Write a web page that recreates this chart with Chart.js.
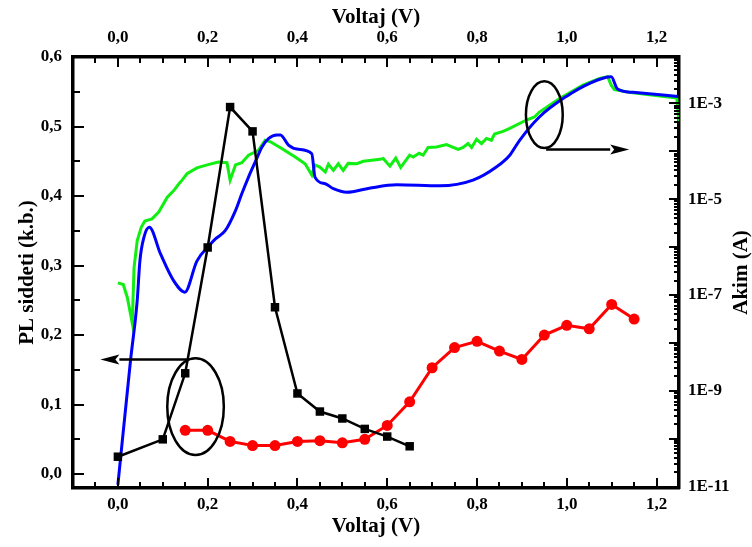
<!DOCTYPE html>
<html>
<head>
<meta charset="utf-8">
<script src="https://cdn.jsdelivr.net/npm/chart.js@4.4.1/dist/chart.umd.min.js"></script>
<style>
  body { margin: 0; background: #fff; }
  #wrap { width: 752px; height: 547px; }
</style>
</head>
<body>
<div id="wrap"><canvas id="chart" width="752" height="547"></canvas></div>
<script>
// ===== DONNEES =====
const voltTicks = [0, 0.2, 0.4, 0.6, 0.8, 1.0, 1.2]
const plTicks = [0, 0.1, 0.2, 0.3, 0.4, 0.5, 0.6]
const currentTicks = [1e-11, 1e-9, 1e-7, 1e-5, 1e-3]

// PL siddeti - siyah kareler
const plBlackV = [0, 0.1, 0.15, 0.2, 0.25, 0.3, 0.35, 0.4, 0.45, 0.5, 0.55, 0.6, 0.65]
const plBlack = [0.025, 0.050, 0.145, 0.326, 0.528, 0.493, 0.240, 0.116, 0.090, 0.080, 0.065, 0.054, 0.040]

// PL siddeti - kirmizi daireler
const plRedV = [0.15, 0.2, 0.25, 0.3, 0.35, 0.4, 0.45, 0.5, 0.55, 0.6, 0.65, 0.7, 0.75, 0.8, 0.85, 0.9, 0.95, 1.0, 1.05, 1.1, 1.15]
const plRed = [0.063, 0.063, 0.047, 0.041, 0.041, 0.047, 0.048, 0.045, 0.050, 0.070, 0.104, 0.153, 0.182, 0.191, 0.177, 0.165, 0.200, 0.214, 0.209, 0.244, 0.223]

// Akim - mavi egri
const blueV = [0, 0.028, 0.043, 0.049, 0.058, 0.070, 0.095, 0.124, 0.149, 0.176, 0.206, 0.218, 0.239, 0.262, 0.276, 0.291, 0.306, 0.321, 0.336, 0.354, 0.362, 0.380, 0.402, 0.432, 0.439, 0.462, 0.48, 0.51, 0.56, 0.621, 0.717, 0.791, 0.843, 0.873, 0.895, 0.939, 0.999, 1.05, 1.099, 1.113, 1.147, 1.248]
const blueI = [1.1e-11, 4.2e-9, 7.6e-8, 5.1e-7, 1.6e-6, 2.6e-6, 7.2e-7, 2.0e-7, 1.15e-7, 5.1e-7, 1.15e-6, 1.5e-6, 2.2e-6, 5.8e-6, 1.3e-5, 2.9e-5, 6.0e-5, 1.23e-4, 1.86e-4, 2.2e-4, 2.2e-4, 1.35e-4, 1.1e-4, 8.9e-5, 2.9e-5, 2.1e-5, 1.66e-5, 1.4e-5, 1.7e-5, 2.0e-5, 1.9e-5, 2.5e-5, 4.7e-5, 8.3e-5, 1.7e-4, 5.2e-4, 1.4e-3, 2.6e-3, 3.6e-3, 2.0e-3, 1.7e-3, 1.4e-3]

// Akim - yesil egri
const greenV = [0, 0.012, 0.021, 0.032, 0.036, 0.043, 0.052, 0.060, 0.076, 0.091, 0.110, 0.124, 0.136, 0.143, 0.154, 0.176, 0.199, 0.224, 0.243, 0.250, 0.262, 0.276, 0.291, 0.313, 0.328, 0.339, 0.365, 0.395, 0.417, 0.432, 0.439, 0.450, 0.462, 0.469, 0.480, 0.491, 0.502, 0.513, 0.532, 0.547, 0.584, 0.591, 0.606, 0.619, 0.630, 0.650, 0.658, 0.671, 0.680, 0.691, 0.710, 0.732, 0.758, 0.769, 0.780, 0.788, 0.799, 0.810, 0.821, 0.832, 0.839, 0.858, 0.873, 0.910, 0.928, 0.939, 0.984, 1.036, 1.073, 1.091, 1.099, 1.106, 1.147, 1.245, 1.25]
const greenI = [1.8e-7, 1.66e-7, 8.9e-8, 2.6e-8, 3.7e-7, 1.35e-6, 2.6e-6, 3.5e-6, 3.9e-6, 5.4e-6, 1.1e-5, 1.5e-5, 2.1e-5, 2.5e-5, 3.4e-5, 4.5e-5, 5.2e-5, 6.0e-5, 5.8e-5, 2.5e-5, 5.2e-5, 5.8e-5, 8.3e-5, 1.05e-4, 1.7e-4, 1.6e-4, 1.15e-4, 7.6e-5, 5.5e-5, 3.2e-5, 5.2e-5, 4.7e-5, 3.7e-5, 5.4e-5, 4.0e-5, 5.5e-5, 4.0e-5, 5.6e-5, 5.5e-5, 6.2e-5, 6.8e-5, 7.1e-5, 4.9e-5, 7.2e-5, 4.6e-5, 8.3e-5, 7.6e-5, 9.1e-5, 8.3e-5, 1.2e-4, 1.23e-4, 1.38e-4, 1.1e-4, 1.2e-4, 1.45e-4, 1.2e-4, 1.78e-4, 1.45e-4, 1.86e-4, 1.7e-4, 2.3e-4, 2.6e-4, 3.0e-4, 4.5e-4, 5.2e-4, 6.6e-4, 1.26e-3, 2.4e-3, 3.3e-3, 3.6e-3, 2.4e-3, 1.95e-3, 1.66e-3, 1.29e-3, 4.2e-4]

// ===== ISARETLER (elips + ok), veri koordinatlarinda =====
const marks = [
  { cx: 0.173, cy: 0.097, rx: 0.063, ry: 0.0695, ax: 0.154, ay: 0.165, bx: -0.039 },
  { cx: 0.950, cy: 0.517, rx: 0.041, ry: 0.048, ax: 0.954, ay: 0.467, bx: 1.139 },
]

const FONT = 'Liberation Serif'
const pts = (xs, ys) => xs.map((x, i) => ({ x: x, y: ys[i] }))
const comma = (v) => v.toFixed(1).replace('.', ',')

// ===== PLUGIN: ice dogru tik cizgileri =====
const inwardTicks = {
  id: 'inwardTicks',
  afterDraw(chart) {
    const { ctx, chartArea: a, scales } = chart
    const line = (x1, y1, x2, y2) => {
      ctx.beginPath()
      ctx.moveTo(x1, y1)
      ctx.lineTo(x2, y2)
      ctx.stroke()
    }
    ctx.save()
    ctx.strokeStyle = '#000'
    ctx.lineWidth = 2
    // Voltaj
    for (let i = -1; i <= 24; i++) {
      const px = Math.round(scales.x.getPixelForValue(i * 0.05))
      const len = i % 4 === 0 ? 10 : 6
      line(px, a.bottom, px, a.bottom - len)
      line(px, a.top, px, a.top + len)
    }
    // PL
    for (let i = 0; i <= 12; i++) {
      const py = Math.round(scales.y.getPixelForValue(i * 0.05))
      const len = i % 2 === 0 ? 11 : 7
      line(a.left, py, a.left + len, py)
    }
    // Akim (log)
    const yI = scales.yI
    for (let e = -12; e <= -3; e++) {
      for (let m = 1; m <= 9; m++) {
        const v = m * Math.pow(10, e)
        if (v < yI.min || v > yI.max) continue
        const py = Math.round(yI.getPixelForValue(v))
        line(a.right, py, a.right - (m === 1 ? 10 : 5), py)
      }
    }
    // sag eksen basligi (asagidan yukari)
    ctx.fillStyle = '#000'
    ctx.font = 'bold 21px ' + FONT
    ctx.textAlign = 'center'
    ctx.textBaseline = 'middle'
    ctx.translate(742, (a.top + a.bottom) / 2)
    ctx.rotate(-Math.PI / 2)
    ctx.fillText('Akim (A)', 0, 0)
    ctx.restore()
  },
}

// ===== PLUGIN: elipsler ve oklar =====
const ellipseArrows = {
  id: 'ellipseArrows',
  afterDatasetsDraw(chart) {
    const { ctx, scales } = chart
    const sx = scales.x
    const sy = scales.y
    ctx.save()
    ctx.strokeStyle = '#000'
    ctx.fillStyle = '#000'
    ctx.lineWidth = 2.5
    marks.forEach((m) => {
      const cx = sx.getPixelForValue(m.cx)
      const cy = sy.getPixelForValue(m.cy)
      const rx = Math.abs(sx.getPixelForValue(m.cx + m.rx) - cx)
      const ry = Math.abs(sy.getPixelForValue(m.cy + m.ry) - cy)
      ctx.beginPath()
      ctx.ellipse(cx, cy, rx, ry, 0, 0, Math.PI * 2)
      ctx.stroke()

      const x1 = sx.getPixelForValue(m.ax)
      const x2 = sx.getPixelForValue(m.bx)
      const y = sy.getPixelForValue(m.ay)
      const dir = x2 > x1 ? 1 : -1
      const tip = x2
      const base = tip - dir * 19
      ctx.beginPath()
      ctx.moveTo(x1, y)
      ctx.lineTo(base, y)
      ctx.stroke()
      ctx.beginPath()
      ctx.moveTo(tip, y)
      ctx.lineTo(base, y - 5)
      ctx.lineTo(base + dir * 4, y)
      ctx.lineTo(base, y + 5)
      ctx.closePath()
      ctx.fill()
    })
    ctx.restore()
  },
}

// ===== GRAFIK =====
Chart.defaults.font.family = FONT
Chart.defaults.font.weight = 'bold'
Chart.defaults.color = '#000'

const tickFont = { family: FONT, size: 17, weight: 'bold' }
const titleFont = { family: FONT, size: 21, weight: 'bold' }
const noGrid = { display: false, drawTicks: false }
const border = { display: true, width: 3.5, color: '#000' }

new Chart(document.getElementById('chart'), {
  type: 'line',
  data: {
    datasets: [
      {
        data: pts(plBlackV, plBlack),
        xAxisID: 'x',
        yAxisID: 'y',
        borderColor: '#000',
        backgroundColor: '#000',
        borderWidth: 2.5,
        pointStyle: 'rect',
        pointRadius: 6,
        pointBorderWidth: 0,
      },
      {
        data: pts(plRedV, plRed),
        xAxisID: 'x',
        yAxisID: 'y',
        borderColor: '#ff0000',
        backgroundColor: '#ff0000',
        borderWidth: 3,
        pointStyle: 'circle',
        pointRadius: 5.5,
        pointBorderWidth: 0,
      },
      {
        data: pts(blueV, blueI),
        xAxisID: 'x',
        yAxisID: 'yI',
        borderColor: '#0000ff',
        borderWidth: 3,
        pointRadius: 0,
        cubicInterpolationMode: 'monotone',
      },
      {
        data: pts(greenV, greenI),
        xAxisID: 'x',
        yAxisID: 'yI',
        borderColor: '#11ee11',
        borderWidth: 3,
        pointRadius: 0,
      },
    ],
  },
  options: {
    responsive: false,
    animation: false,
    layout: { padding: 0 },
    plugins: {
      legend: { display: false },
      tooltip: { enabled: false },
    },
    scales: {
      x: {
        type: 'linear',
        position: 'bottom',
        min: -0.1,
        max: 1.25,
        grid: noGrid,
        border: border,
        afterBuildTicks: (s) => { s.ticks = voltTicks.map((v) => ({ value: v })) },
        afterFit: (s) => { s.height = 59 },
        ticks: { font: tickFont, padding: 6, maxRotation: 0, callback: (v) => comma(v) },
        title: { display: true, text: 'Voltaj (V)', font: titleFont, padding: { top: 0, bottom: 8 } },
      },
      x2: {
        type: 'linear',
        position: 'top',
        min: -0.1,
        max: 1.25,
        grid: noGrid,
        border: border,
        afterBuildTicks: (s) => { s.ticks = voltTicks.map((v) => ({ value: v })) },
        afterFit: (s) => { s.height = 57 },
        ticks: { font: tickFont, padding: 9, maxRotation: 0, callback: (v) => comma(v) },
        title: { display: true, text: 'Voltaj (V)', font: titleFont, padding: { top: 5, bottom: 0 } },
      },
      y: {
        type: 'linear',
        position: 'left',
        min: -0.02,
        max: 0.6,
        grid: noGrid,
        border: border,
        afterBuildTicks: (s) => { s.ticks = plTicks.map((v) => ({ value: v })) },
        afterFit: (s) => { s.width = 73 },
        ticks: { font: tickFont, padding: 11, callback: (v) => comma(v) },
        title: { display: true, text: 'PL siddeti (k.b.)', font: titleFont, padding: { top: 15, bottom: 0 } },
      },
      yI: {
        type: 'logarithmic',
        position: 'right',
        min: 9.4e-12,
        max: 9.3e-3,
        grid: noGrid,
        border: border,
        afterBuildTicks: (s) => { s.ticks = currentTicks.map((v) => ({ value: v })) },
        afterFit: (s) => { s.width = 73 },
        ticks: { font: tickFont, padding: 9, callback: (v) => '1E' + Math.round(Math.log10(v)) },
        title: { display: false },
      },
    },
  },
  plugins: [ellipseArrows, inwardTicks],
})
</script>
</body>
</html>
